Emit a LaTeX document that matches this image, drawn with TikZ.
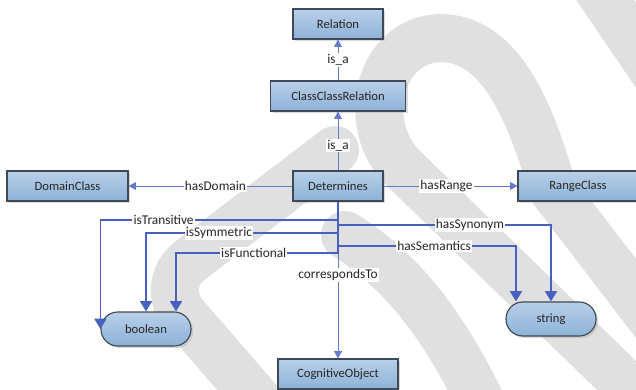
\documentclass[tikz,border=0pt]{standalone}
\usepackage{fontspec}
\setmainfont{Carlito}
\usetikzlibrary{arrows.meta, shadows}
\definecolor{boxtop}{RGB}{184,208,233}
\definecolor{boxbot}{RGB}{141,178,214}
\definecolor{boxline}{RGB}{62,72,86}
\definecolor{relblue}{RGB}{72,96,192}
\definecolor{isablue}{RGB}{100,122,204}
\definecolor{wmgray}{RGB}{224,224,224}
\tikzset{
  cls/.style={draw=boxline, line width=0.8pt, top color=boxtop, bottom color=boxbot, minimum height=0.75cm, inner sep=2pt, text=black!85, font=\fontsize{9}{11}\selectfont, drop shadow={shadow xshift=1.5pt, shadow yshift=-1.5pt, fill=black!35, opacity=0.4}},
  dtype/.style={cls, rounded corners=0.42cm, minimum height=0.85cm, minimum width=2.25cm},
  isa/.style={-{Triangle[length=1.8mm, width=1.9mm]}, isablue, line width=0.6pt},
  prop/.style={-{Triangle[length=2.6mm, width=3mm]}, relblue, line width=1.3pt},
  lbl/.style={fill=white, inner sep=0.8pt, text=black!85, font=\fontsize{9.5}{11}\selectfont},
  wm/.style={wmgray, line width=1.2cm, line cap=round, line join=round}
}
\begin{document}
\begin{tikzpicture}[x=0.025cm, y=-0.025cm]
  \fill[white] (0,0) rectangle (636,389);
  \useasboundingbox (0,0) rectangle (636,389);
  % watermark in the background
  \begin{scope}
    \clip (0,0) rectangle (636,389);
    \draw[wm, rounded corners=1cm] (262,405) -- (158,285) -- (335,150);
    \draw[wm] (617,376) -- (400,165) .. controls (360,120) and (380,40) .. (440,38) .. controls (500,38) and (530,110) .. (553,190) -- (660,330);
    \draw[wm] (480,400) .. controls (440,320) and (400,270) .. (345,235);
    \draw[wm] (585,-30) -- (680,110);
  \end{scope}

  % classes
  \node[cls, minimum width=2.25cm] (rel) at (338,24) {Relation};
  \node[cls, minimum width=3.375cm] (ccr) at (338,96) {ClassClassRelation};
  \node[cls, minimum width=2.25cm] (det) at (338,186) {Determines};
  \node[cls, minimum width=3.025cm] (dom) at (67.5,186) {DomainClass};
  \node[cls, minimum width=3cm] (rng) at (578,186) {RangeClass};
  \node[cls, minimum width=3cm] (cog) at (338,374) {CognitiveObject};
  % datatypes
  \node[dtype] (bool) at (146,329) {boolean};
  \node[dtype] (str) at (551,319) {string};

  % branch points on the trunk below Determines
  \coordinate (ktr) at (338,220);
  \coordinate (ksn) at (338,225);
  \coordinate (ksy) at (338,233);
  \coordinate (kse) at (338,246);
  \coordinate (kfn) at (338,253);

  \draw[isa] (ccr) -- node[lbl] {is\_a} (rel);
  \draw[isa] (det) -- node[lbl, pos=0.42] {is\_a} (ccr);
  \draw[isa] (det) -- node[lbl, pos=0.47] {hasDomain} (dom);
  \draw[isa] (det) -- node[lbl, pos=0.47] {hasRange} (rng);
  \draw[isa] (det) -- node[lbl, pos=0.47] {correspondsTo} (cog);

  \draw[prop] (det.south) -- (ktr) -| node[lbl, pos=0.367] {isTransitive} (bool.west);
  \draw[prop] (det.south) -- (ksy) -| node[lbl, pos=0.31] {isSymmetric} (bool.north);
  \draw[prop] (det.south) -- (kfn) -| node[lbl, pos=0.26] {isFunctional} ([xshift=0.75cm]bool.north);
  \draw[prop] (det.south) -- (ksn) -| node[lbl, pos=0.31] {hasSynonym} (str.north);
  \draw[prop] (det.south) -- (kse) -| node[lbl, pos=0.27] {hasSemantics} ([xshift=-0.875cm]str.north);
\end{tikzpicture}
\end{document}
